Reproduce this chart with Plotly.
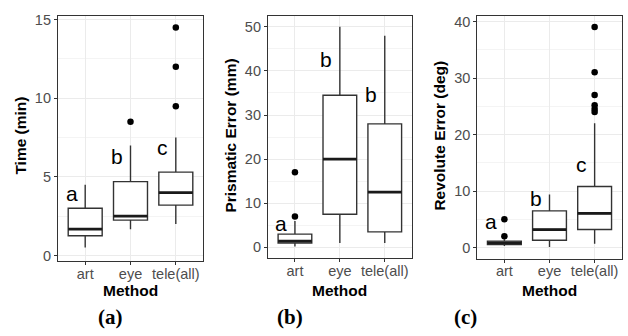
import plotly.graph_objects as go

methods = ["art", "eye", "tele(all)"]

# Panel (a): Time (min)
time_lower = [0.5, 1.67, 2.0]
time_q1 = [1.25, 2.25, 3.2]
time_median = [1.67, 2.5, 4.0]
time_q3 = [3.0, 4.7, 5.3]
time_upper = [4.5, 7.0, 7.5]
time_outliers = [[], [8.5], [9.5, 12.0, 14.5]]
time_letters = ["a", "b", "c"]
time_letter_y = [3.94, 6.31, 6.87]

# Panel (b): Prismatic Error (mm)
pri_lower = [0.2, 1.0, 1.0]
pri_q1 = [1.0, 7.5, 3.5]
pri_median = [1.4, 20.0, 12.5]
pri_q3 = [3.0, 34.5, 28.0]
pri_upper = [6.0, 50.0, 48.0]
pri_outliers = [[7.0, 17.0], [], []]
pri_letters = ["a", "b", "b"]
pri_letter_y = [5.5, 42.5, 34.7]

# Panel (c): Revolute Error (deg)
rev_lower = [0.3, 0.1, 0.7]
rev_q1 = [0.55, 1.3, 3.2]
rev_median = [0.85, 3.2, 6.05]
rev_q3 = [1.15, 6.5, 10.8]
rev_upper = [1.5, 9.4, 22.0]
rev_outliers = [[2.0, 5.0], [], [24.0, 24.5, 25.2, 27.0, 31.0, 39.0]]
rev_letters = ["a", "b", "c"]
rev_letter_y = [4.67, 8.7, 14.76]

panels = [
    dict(lower=time_lower, q1=time_q1, med=time_median, q3=time_q3, upper=time_upper,
         out=time_outliers, letters=time_letters, ly=time_letter_y,
         title="Time (min)", yrange=[-0.375, 15.25], dtick=5,
         xdom=[58/628, 203/628], ydom=[1-262/336, 1-12/336], ytitle_x=21/628, tag="(a)", tag_x=110/628),
    dict(lower=pri_lower, q1=pri_q1, med=pri_median, q3=pri_q3, upper=pri_upper,
         out=pri_outliers, letters=pri_letters, ly=pri_letter_y,
         title="Prismatic Error (mm)", yrange=[-2.5, 52.5], dtick=10,
         xdom=[268/628, 411.7/628], ydom=[1-259/336, 1-12/336], ytitle_x=231/628, tag="(b)", tag_x=290/628),
    dict(lower=rev_lower, q1=rev_q1, med=rev_median, q3=rev_q3, upper=rev_upper,
         out=rev_outliers, letters=rev_letters, ly=rev_letter_y,
         title="Revolute Error (deg)", yrange=[-1.95, 40.95], dtick=10,
         xdom=[477.3/628, 621.7/628], ydom=[1-259.3/336, 1-12.3/336], ytitle_x=440/628, tag="(c)", tag_x=466/628),
]

FONT = "Liberation Sans, Arial, sans-serif"
LINE = "#333333"
BW = 0.75
pos = [1, 2, 3]

fig = go.Figure()
annotations = []
layout = {}

for i, p in enumerate(panels):
    n = "" if i == 0 else str(i + 1)
    xa, ya = "x" + n, "y" + n
    fig.add_trace(go.Box(
        x=pos, q1=p["q1"], median=p["med"], q3=p["q3"],
        lowerfence=p["lower"], upperfence=p["upper"],
        width=BW, fillcolor="white", line=dict(color=LINE, width=1.4),
        boxpoints=False, whiskerwidth=0, showlegend=False, hoverinfo="skip",
        xaxis=xa, yaxis=ya))
    # thicker median lines
    for j, m in enumerate(p["med"]):
        fig.add_trace(go.Scatter(
            x=[pos[j] - BW / 2, pos[j] + BW / 2], y=[m, m], mode="lines",
            line=dict(color="#1a1a1a", width=2.7), showlegend=False, hoverinfo="skip",
            xaxis=xa, yaxis=ya))
    ox, oy = [], []
    for j, outs in enumerate(p["out"]):
        for v in outs:
            ox.append(pos[j]); oy.append(v)
    if ox:
        fig.add_trace(go.Scatter(
            x=ox, y=oy, mode="markers", marker=dict(color="black", size=6.5),
            showlegend=False, hoverinfo="skip", xaxis=xa, yaxis=ya))
    for j, (lt, lyv) in enumerate(zip(p["letters"], p["ly"])):
        annotations.append(dict(
            x=pos[j] - 0.3, y=lyv, xref=xa, yref=ya, text=lt, showarrow=False,
            font=dict(family=FONT, size=21, color="black"), xanchor="center", yanchor="middle"))
    layout["xaxis" + n] = dict(
        domain=p["xdom"], range=[0.4, 3.6], anchor=ya,
        tickvals=pos, ticktext=methods, tickfont=dict(family=FONT, size=14.5, color="#4d4d4d"),
        ticks="outside", ticklen=3, tickcolor=LINE, tickwidth=1, ticklabelstandoff=-4,
        showline=True, mirror=True, linecolor=LINE, linewidth=1.2,
        showgrid=True, gridcolor="#ebebeb", gridwidth=1, zeroline=False, fixedrange=True)
    layout["yaxis" + n] = dict(
        domain=p["ydom"], range=p["yrange"], anchor=xa, dtick=p["dtick"], tick0=0,
        tickfont=dict(family=FONT, size=14.5, color="#4d4d4d"),
        ticks="outside", ticklen=3, tickcolor=LINE, tickwidth=1,
        showline=True, mirror=True, linecolor=LINE, linewidth=1.2,
        showgrid=True, gridcolor="#ebebeb", gridwidth=1, zeroline=False,
        minor=dict(dtick=p["dtick"] / 2, tick0=0, showgrid=True, gridcolor="#f4f4f4", gridwidth=0.6, ticks=""),
        fixedrange=True)
    annotations.append(dict(
        x=p["ytitle_x"], y=1 - 134/336, xref="paper", yref="paper", text="<b>" + p["title"] + "</b>",
        textangle=-90, showarrow=False, font=dict(family=FONT, size=15.5, color="black"),
        xanchor="center", yanchor="middle"))
    xmid = (p["xdom"][0] + p["xdom"][1]) / 2
    annotations.append(dict(
        x=xmid, y=1 - 292/336, xref="paper", yref="paper", text="<b>Method</b>",
        showarrow=False, font=dict(family=FONT, size=15.5, color="black"),
        xanchor="center", yanchor="middle"))
    annotations.append(dict(
        x=p["tag_x"], y=1 - 319/336, xref="paper", yref="paper", text="<b>" + p["tag"] + "</b>",
        showarrow=False, font=dict(family="Liberation Serif, Times New Roman, serif", size=21, color="black"),
        xanchor="center", yanchor="middle"))

fig.update_layout(
    width=628, height=336, margin=dict(l=0, r=0, t=0, b=0),
    paper_bgcolor="white", plot_bgcolor="white",
    annotations=annotations, showlegend=False, **layout)

fig.write_html("out.html", config={"displayModeBar": False},
               post_script="document.body.style.margin='0';document.body.style.overflow='hidden';")
